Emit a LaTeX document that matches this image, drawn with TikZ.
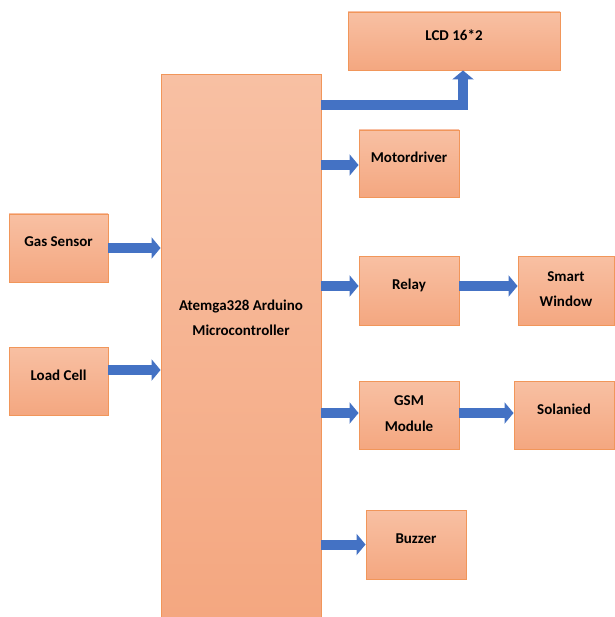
\documentclass[tikz,border=0pt]{standalone}
\usepackage{fontspec}
\setmainfont{Carlito}
\usepackage{xcolor}
\usepackage{tikz}
\usetikzlibrary{arrows.meta}
\usetikzlibrary{positioning}

\definecolor{boxtop}{RGB}{248,192,163}
\definecolor{boxbot}{RGB}{244,167,128}
\definecolor{boxline}{RGB}{241,150,90}
\definecolor{arrblue}{RGB}{68,114,196}

\begin{document}
\begin{tikzpicture}[
    x=1pt, y=-1pt,
    box/.style={rectangle, draw=boxline, line width=0.9pt, top color=boxtop, bottom color=boxbot,
      inner sep=0pt, align=center, text depth=12pt, font=\bfseries\fontsize{15}{25.5}\selectfont},
    twoline/.style={text depth=3pt},
    txt/.style={align=center, font=\bfseries\fontsize{15}{25.5}\selectfont},
    arr/.style={draw=arrblue, line width=10pt, line join=miter,
      -{Triangle[length=9pt, width=21pt]}},
  ]
  \useasboundingbox (0, 0) rectangle (614, 617);

  \node[box, minimum width=99pt, minimum height=68pt] (gas)  at (58.5, 248) {Gas Sensor};
  \node[box, minimum width=99pt, minimum height=68pt] (load) at (58.5, 381) {Load Cell};

  \node[box, minimum width=160pt, minimum height=543pt, anchor=north] (mc) at (241, 74) {};
  \node[txt] (mctext) at (241, 318) {Atemga328 Arduino\\Microcontroller};

  \node[box, minimum width=212pt, minimum height=58pt] (lcd)   at (454, 41)    {LCD 16*2};
  \node[box, minimum width=100pt, minimum height=67pt] (motor) at (409, 163.5) {Motordriver};
  \node[box, minimum width=100pt, minimum height=69pt] (relay) at (409, 290.5) {Relay};
  \node[box, twoline, minimum width=96pt,  minimum height=69pt] (smart) at (566, 290.5) {Smart\\Window};
  \node[box, twoline, minimum width=100pt, minimum height=68pt] (gsm)   at (409, 415)   {GSM\\Module};
  \node[box, minimum width=100pt, minimum height=68pt] (sol)   at (564, 415)   {Solanied};
  \node[box, minimum width=100pt, minimum height=69pt] (buzz)  at (416, 544.5) {Buzzer};

  % inputs
  \draw[arr] (gas) -- (gas -| mc.west);
  \draw[arr] ([yshift=11pt]load.east) -- ([yshift=11pt]load.east -| mc.west);

  % outputs
  \draw[arr] ([yshift=-31.5pt]mc.north east) -| ([xshift=9pt]lcd.south);
  \draw[arr] ([yshift=-1.5pt]motor.west -| mc.east) -- ([yshift=-1.5pt]motor.west);
  \draw[arr] ([yshift=4.5pt]relay.west -| mc.east) -- ([yshift=4.5pt]relay.west);
  \draw[arr] ([yshift=4.5pt]relay.east) -- ([yshift=4.5pt]smart.west);
  \draw[arr] ([yshift=2pt]gsm.west -| mc.east) -- ([yshift=2pt]gsm.west);
  \draw[arr] ([yshift=2pt]gsm.east) -- ([yshift=2pt]sol.west);
  \draw[arr] (buzz.west -| mc.east) -- (buzz);

  \end{tikzpicture}
\end{document}
